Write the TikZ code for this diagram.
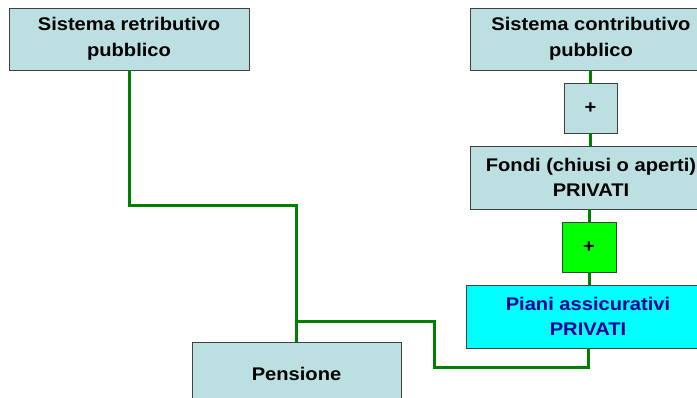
\documentclass[tikz,border=0pt]{standalone}
\usepackage{fontspec}
\setmainfont{Liberation Sans}[FakeStretch=1.1]
\definecolor{boxfill}{RGB}{188,224,226}
\definecolor{boxline}{RGB}{64,64,64}
\definecolor{linkgreen}{RGB}{0,128,0}
\definecolor{plusgreen}{RGB}{0,255,0}
\definecolor{cyanfill}{RGB}{0,255,255}
\definecolor{darkbluetext}{RGB}{0,0,153}
\tikzset{
  box/.style={draw=boxline, line width=0.8pt, fill=boxfill, rectangle, inner sep=0pt,
    align=center, font=\fontsize{18.3}{25.5}\selectfont\bfseries, text=black},
  plusbox/.style={box, minimum width=53pt, minimum height=50pt},
  link/.style={draw=linkgreen, line width=3pt}
}
\begin{document}
\begin{tikzpicture}[x=1pt,y=-1pt]
\useasboundingbox (0,0) rectangle (697,398);
\clip (0,0) rectangle (697,398);
\fill[white] (0,0) rectangle (697,398);
\node[box, minimum width=240pt, minimum height=62pt] (b1) at (129,39) {Sistema retributivo\\pubblico};
\node[box, minimum width=242pt, minimum height=62pt] (b2) at (591,39) {Sistema contributivo\\pubblico};
\node[plusbox] (p1) at (590.5,108) {+};
\node[box, minimum width=242pt, minimum height=63pt] (b3) at (591,177.5) {Fondi (chiusi o aperti)\\PRIVATI};
\node[plusbox, fill=plusgreen, minimum width=54pt] (p2) at (589,247) {+};
\node[box, fill=cyanfill, text=darkbluetext, minimum width=244pt, minimum height=63pt] (b4) at (588,316.5) {Piani assicurativi\\PRIVATI};
\node[box, minimum width=209pt, minimum height=63pt] (pen) at (296.5,373.5) {Pensione};
\coordinate (k1) at (296.5,206);
\coordinate (k2) at (434,368);
\coordinate (k4) at (296.5,322);
\draw[link] (b1.south) |- (k1) -- (pen.north);
\draw[link] (b4.south) |- (k2) |- (k4);
\draw[link] (b2.south -| p1.north) -- (p1.north);
\draw[link] (p1.south) -- (p1.south |- b3.north);
\draw[link] (b3.south -| p2.north) -- (p2.north);
\draw[link] (p2.south) -- (p2.south |- b4.north);
\end{tikzpicture}
\end{document}
